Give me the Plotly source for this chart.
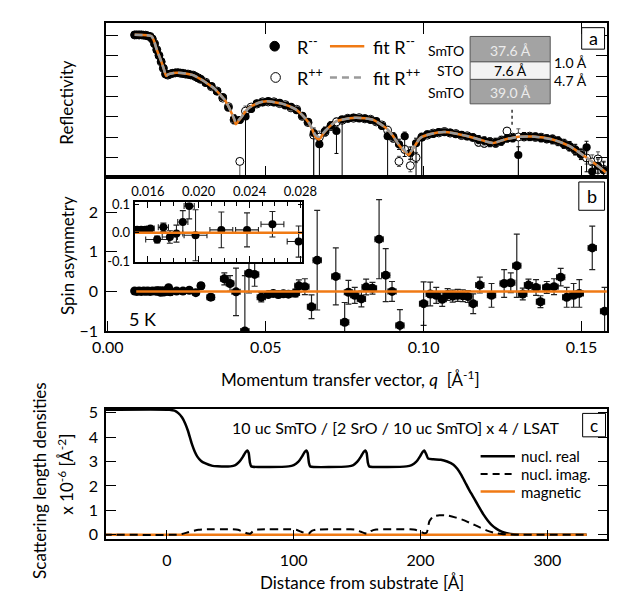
import plotly.graph_objects as go

# ---------------- data: panel a (log10 reflectivity) ----------------
q_refl = [0.0085, 0.0092, 0.0099, 0.0106, 0.0113, 0.0120, 0.0127, 0.0134, 0.0141, 0.0148,
          0.0155, 0.0162, 0.0169, 0.0176, 0.0183, 0.0190, 0.0198, 0.0206, 0.0214, 0.0222,
          0.0230, 0.0238, 0.0246, 0.0254, 0.0262, 0.0270, 0.0278, 0.0286, 0.0294,
          0.0310, 0.0328, 0.0346, 0.0364, 0.0382, 0.0400, 0.0418, 0.0436, 0.0454, 0.0472,
          0.0490, 0.0508, 0.0526, 0.0544, 0.0562, 0.0580, 0.0598, 0.0616, 0.0634, 0.0652,
          0.0670, 0.0688, 0.0706, 0.0724, 0.0742, 0.0760, 0.0778, 0.0796, 0.0814, 0.0832,
          0.0850, 0.0868, 0.0886, 0.0904, 0.0922, 0.0940, 0.0958, 0.0976, 0.0994, 0.1012,
          0.1030, 0.1048, 0.1066, 0.1084, 0.1102, 0.1120, 0.1138, 0.1156, 0.1174, 0.1192,
          0.1210, 0.1228, 0.1246, 0.1264, 0.1282, 0.1300, 0.1318, 0.1336, 0.1354, 0.1372,
          0.1390, 0.1408, 0.1426, 0.1444, 0.1462, 0.1480, 0.1498, 0.1516, 0.1534, 0.1552,
          0.1570]
R_mm = [0.03, 0.02, 0.03, 0.02, 0.02, 0.0, -0.02, -0.06, -0.16, -0.42,
        -0.72, -1.0, -1.27, -1.6, -1.88, -1.93, -1.88, -1.85, -1.83, -1.84,
        -1.84, -1.88, -1.88, -1.92, -1.93, -1.97, -2.01, -2.1, -2.14,
        -2.34, -2.48, -2.76, -3.02, -3.55, -4.1, -4.15, -3.98, -3.62, -3.33,
        -3.3, -3.22, -3.3, -3.31, -3.44, -3.5, -3.68, -3.95, -4.24, -4.8,
        -5.35, -4.7, -4.42, -4.7, -4.12, -4.1, -4.03, -4.08, -4.07, -4.15,
        -4.2, -4.45, -4.95, -4.98, -5.35, -4.95, -5.78, -5.3, -5.02, -4.85,
        -4.84, -4.75, -4.76, -4.77, -4.86, -4.88, -4.97, -5.0, -5.12, -5.18,
        -5.27, -5.25, -5.2, -5.06, -5.05, -5.87, -4.95, -4.99, -4.97, -5.05,
        -5.06, -5.13, -5.18, -5.35, -5.43, -5.6, -5.85, -5.5, -6.68, -6.42,
        -6.62]
R_pp = [0.02, 0.03, 0.02, 0.03, 0.01, 0.01, -0.03, -0.05, -0.18, -0.4,
        -0.7, -0.98, -1.3, -1.62, -1.9, -1.95, -1.9, -1.86, -1.84, -1.83,
        -1.86, -1.86, -1.9, -1.9, -1.94, -1.95, -2.03, -2.08, -2.16,
        -2.3, -2.52, -2.73, -3.08, -3.5, -4.15, -6.19, -3.72, -3.52, -3.37,
        -3.26, -3.27, -3.26, -3.35, -3.4, -3.56, -3.63, -3.98, -4.28, -4.9,
        -5.0, -4.75, -4.48, -4.25, -4.17, -4.07, -4.07, -4.04, -4.1, -4.12,
        -4.25, -4.4, -4.66, -5.05, -6.19, -5.6, -6.4, -6.0, -5.0, -4.9,
        -4.8, -4.79, -4.72, -4.8, -4.82, -4.92, -4.93, -5.02, -5.25, -5.3,
        -5.22, -5.3, -5.15, -4.7, -5.0, -4.99, -4.99, -4.95, -5.01, -5.0,
        -5.09, -5.09, -5.22, -5.3, -5.47, -5.64, -5.8, -6.02, -6.22, -6.07,
        -6.58]
err_refl = [0.03, 0.03, 0.03, 0.03, 0.03, 0.03, 0.03, 0.03, 0.03, 0.04,
            0.04, 0.04, 0.04, 0.04, 0.05, 0.05, 0.05, 0.05, 0.05, 0.05,
            0.06, 0.06, 0.06, 0.06, 0.06, 0.07, 0.07, 0.07, 0.08,
            0.08, 0.08, 0.09, 0.10, 0.12, 0.20, 0.15, 0.25, 0.15, 0.10,
            0.10, 0.10, 0.10, 0.10, 0.10, 0.10, 0.12, 0.14, 0.15, 0.25,
            0.30, 0.20, 0.18, 0.20, 0.12, 0.12, 0.12, 0.12, 0.12, 0.12,
            0.13, 0.15, 0.20, 0.20, 0.25, 0.20, 0.30, 0.25, 0.20, 0.15,
            0.15, 0.15, 0.15, 0.15, 0.15, 0.15, 0.15, 0.15, 0.20, 0.20,
            0.20, 0.20, 0.20, 0.18, 0.18, 0.40, 0.18, 0.18, 0.18, 0.18,
            0.18, 0.20, 0.20, 0.20, 0.22, 0.25, 0.25, 0.30, 0.35, 0.35,
            0.40]
deep_mm = {0.0436: 3.0, 0.0652: 3.0, 0.0670: 3.0, 0.0724: 1.1, 0.0742: 3.0, 0.0886: 3.0,
           0.0940: 1.0, 0.0976: 3.0, 0.0994: 3.0, 0.1300: 3.0, 0.1516: 1.2, 0.1534: 3.0}
deep_pp = {0.0418: 3.0, 0.0652: 3.0, 0.0994: 3.0, 0.1300: 3.0, 0.1552: 3.0}

q_fit = [0.0085, 0.0110, 0.0130, 0.0139, 0.0147, 0.0155, 0.0163, 0.0171, 0.0178, 0.0185,
         0.0190, 0.0197, 0.0219, 0.0245, 0.0272, 0.0294, 0.0315, 0.0337, 0.0353, 0.0369,
         0.0380, 0.0390, 0.0399, 0.0406, 0.0413, 0.0422, 0.0444, 0.0476, 0.0503, 0.0551,
         0.0594, 0.0615, 0.0637, 0.0648, 0.0658, 0.0669, 0.0679, 0.0690, 0.0722, 0.0765,
         0.0787, 0.0840, 0.0883, 0.0902, 0.0920, 0.0937, 0.0953, 0.0961, 0.0969, 0.0990,
         0.1022, 0.1065, 0.1140, 0.1204, 0.1220, 0.1258, 0.1301, 0.1343, 0.1408, 0.1461,
         0.1515, 0.1563, 0.1584]
fit_mm = [0.03, 0.02, 0.0, -0.05, -0.3, -0.7, -1.02, -1.35, -1.68, -1.99,
          -1.93, -1.88, -1.83, -1.87, -1.96, -2.15, -2.36, -2.6, -2.86, -3.14,
          -3.43, -3.75, -4.08, -4.36, -4.22, -4.04, -3.59, -3.32, -3.24, -3.35,
          -3.62, -3.9, -4.31, -4.65, -5.0, -5.11, -4.9, -4.68, -4.23, -4.07,
          -4.04, -4.15, -4.58, -4.92, -5.35, -5.65, -5.87, -5.7, -5.51, -5.03,
          -4.84, -4.74, -4.95, -5.24, -5.29, -5.11, -4.98, -4.97, -5.11, -5.43,
          -6.0, -6.55, -6.83]
fit_pp = [0.03, 0.02, 0.0, -0.05, -0.3, -0.7, -1.02, -1.35, -1.68, -1.99,
          -1.93, -1.88, -1.83, -1.87, -1.96, -2.15, -2.36, -2.6, -2.86, -3.14,
          -3.43, -3.74, -4.05, -4.28, -4.18, -4.03, -3.6, -3.32, -3.24, -3.35,
          -3.62, -3.9, -4.3, -4.6, -4.9, -4.98, -4.85, -4.66, -4.23, -4.07,
          -4.04, -4.15, -4.58, -4.92, -5.33, -5.6, -5.82, -5.68, -5.5, -5.03,
          -4.84, -4.74, -4.95, -5.24, -5.29, -5.11, -4.98, -4.97, -5.11, -5.43,
          -6.0, -6.55, -6.83]

# ---------------- data: panel b (spin asymmetry) ----------------
q_sa = [0.0085, 0.0092, 0.0099, 0.0106, 0.0113, 0.0120, 0.0127, 0.0134, 0.0141,
        0.01515, 0.01547, 0.01578, 0.0162, 0.01673, 0.01722, 0.01773, 0.01825, 0.01875,
        0.01925, 0.01975, 0.02178, 0.0238, 0.0258, 0.02786,
        0.0295, 0.0326, 0.0369, 0.0387, 0.0406, 0.0434, 0.0447, 0.0465, 0.0486,
        0.0508, 0.0524, 0.0540, 0.0556, 0.0572, 0.0594, 0.0605, 0.0624, 0.0645,
        0.0663, 0.0722, 0.0750, 0.0762, 0.0782, 0.0803, 0.0818, 0.0838, 0.0859,
        0.0880, 0.0900, 0.0925, 0.1000, 0.1021, 0.1040, 0.1059, 0.1076, 0.1092,
        0.1108, 0.1124, 0.1140, 0.1157, 0.1178, 0.1215, 0.1255, 0.1276, 0.1295,
        0.1314, 0.1332, 0.1356, 0.1370, 0.1390, 0.1413, 0.1434, 0.1453, 0.1475,
        0.1493, 0.1534, 0.1573]
sa = [0.01, 0.0, 0.01, 0.0, 0.01, 0.005, 0.01, 0.0, 0.01,
      0.011, 0.011, 0.011, 0.015, -0.024, 0.019, -0.015, -0.003, 0.038,
      0.094, -0.009, 0.010, 0.010, 0.030, -0.031,
      0.14, -0.146, 0.317, 0.2, -0.01, -1.0, 0.46, 0.43, -0.146,
      -0.08, -0.05, -0.08, -0.06, -0.07, -0.04, 0.14, 0.12, -0.39,
      0.79, 0.38, -0.78, -0.02, -0.1, -0.19, 0.11, 0.08, 1.32,
      0.41, 0.0, -0.86, -0.31, -0.065, -0.1, -0.2, -0.08, -0.12,
      -0.1, -0.11, -0.13, -0.31, 0.16, -0.1, 0.2, 0.22, 0.65,
      -0.065, 0.16, 0.1, -0.26, 0.1, 0.12, 0.36, -0.15, -0.1,
      -0.05, 1.1, -0.5]
sa_err = [0.004, 0.004, 0.005, 0.005, 0.005, 0.005, 0.005, 0.006, 0.006,
          0.005, 0.005, 0.005, 0.006, 0.012, 0.015, 0.022, 0.03, 0.04,
          0.045, 0.09, 0.063, 0.06, 0.045, 0.055,
          0.08, 0.08, 0.15, 0.2, 0.6, 1.4, 0.5, 0.3, 0.12,
          0.07, 0.07, 0.08, 0.07, 0.08, 0.1, 0.15, 0.2, 0.3,
          1.26, 0.72, 0.5, 0.3, 0.2, 0.2, 0.2, 0.15, 1.0,
          0.67, 0.25, 0.4, 0.55, 0.3, 0.2, 0.18, 0.15, 0.15,
          0.15, 0.15, 0.15, 0.25, 0.2, 0.3, 0.35, 0.25, 0.8,
          0.15, 0.15, 0.2, 0.15, 0.15, 0.2, 0.22, 0.25, 0.3,
          0.35, 0.55, 0.6]
sa_dq = [0.0002, 0.0002, 0.0002, 0.0002, 0.0002, 0.0002, 0.0002, 0.0002, 0.0002,
         0.0002, 0.0002, 0.0002, 0.0003, 0.0009, 0.0004, 0.0006, 0.0005, 0.0004,
         0.0004, 0.0009, 0.0009, 0.0009, 0.0009, 0.0009,
         0.0010, 0.0012, 0.0012, 0.0012, 0.0013, 0.0013, 0.0013, 0.0013, 0.0013,
         0.0013, 0.0013, 0.0013, 0.0013, 0.0013, 0.0013, 0.0013, 0.0013, 0.0013,
         0.0013, 0.0013, 0.0013, 0.0013, 0.0013, 0.0013, 0.0013, 0.0013, 0.0013,
         0.0013, 0.0013, 0.0013, 0.0013, 0.0013, 0.0013, 0.0013, 0.0013, 0.0013,
         0.0013, 0.0013, 0.0013, 0.0013, 0.0013, 0.0013, 0.0013, 0.0013, 0.0013,
         0.0013, 0.0013, 0.0013, 0.0013, 0.0013, 0.0013, 0.0013, 0.0013, 0.0013,
         0.0013, 0.0013, 0.0013]
q_sa_fit = [0.009, 0.158]
sa_fit = [0.0, 0.0]

# ---------------- data: panel c (SLD profiles) ----------------
z_real = [-50, 2, 6, 9, 12, 14.5, 16.6, 19.6, 22, 24, 27, 30, 36, 40,
          50, 54, 57, 60, 62, 63.5, 64.5, 65.5, 66.5,
          96, 100, 103.5, 106.5, 108.5, 110, 111, 112, 113,
          143, 147, 150, 153, 155, 156.5, 157.5, 158.5, 159.5,
          189, 193, 196.5, 199.5, 201.5, 203, 204.5, 206, 210, 216, 221, 226, 229, 232,
          235, 238, 241, 244, 247, 250, 253, 256, 260, 264, 268, 271, 276, 282, 331]
sld_real = [5.12, 5.12, 5.08, 4.98, 4.8, 4.55, 4.26, 3.73, 3.4, 3.2, 3.02, 2.93, 2.82, 2.8,
            2.8, 2.85, 2.98, 3.2, 3.38, 3.45, 3.35, 2.95, 2.8,
            2.8, 2.85, 2.98, 3.2, 3.38, 3.45, 3.35, 2.95, 2.8,
            2.8, 2.85, 2.98, 3.2, 3.38, 3.45, 3.35, 2.95, 2.8,
            2.8, 2.85, 2.98, 3.2, 3.38, 3.45, 3.3, 3.12, 3.09, 3.07, 3.0, 2.87, 2.7, 2.46,
            2.17, 1.87, 1.6, 1.33, 1.06, 0.8, 0.58, 0.4, 0.24, 0.13, 0.06, 0.03, 0.01, 0.0, 0.0]
z_imag = [-50, 8, 12, 16, 20, 25, 30,
          52, 56, 60, 63, 66, 68, 72,
          98, 102, 106, 109, 112, 114, 118,
          145, 149, 153, 156, 159, 161, 165,
          192, 196, 200, 203, 205, 207, 210, 215, 222, 228, 234, 240, 246, 252, 258,
          264, 270, 278, 331]
sld_imag = [0, 0, 0.03, 0.09, 0.15, 0.2, 0.22,
            0.22, 0.2, 0.12, 0.06, 0.05, 0.15, 0.21,
            0.22, 0.2, 0.12, 0.06, 0.05, 0.15, 0.21,
            0.22, 0.2, 0.12, 0.06, 0.05, 0.15, 0.21,
            0.22, 0.2, 0.12, 0.06, 0.1, 0.55, 0.75, 0.8, 0.78, 0.7, 0.6, 0.46, 0.32, 0.18, 0.08,
            0.03, 0.01, 0, 0]
z_mag = [-50, 331]
sld_mag = [0.0, 0.0]

# ---------------- styling ----------------
W, H = 623, 596
FONT = "Lato, Open Sans, sans-serif"
ORANGE = "#F07A14"
GRAY = "#9a9a9a"


def X(p):
    return p / W


def Y(p):
    return 1 - p / H


err_mm_dn = [deep_mm.get(q, e) for q, e in zip(q_refl, err_refl)]
err_pp_dn = [deep_pp.get(q, e) for q, e in zip(q_refl, err_refl)]

fig = go.Figure()

# panel a
fig.add_trace(go.Scatter(
    x=q_refl, y=R_pp, mode="markers", xaxis="x", yaxis="y",
    marker=dict(symbol="circle", size=8, color="white", line=dict(color="black", width=1)),
    error_y=dict(type="data", array=err_refl, arrayminus=err_pp_dn, color="#555", thickness=1, width=2),
    error_x=dict(type="constant", value=0.001, color="#555", thickness=1, width=2)))
fig.add_trace(go.Scatter(
    x=q_refl, y=R_mm, mode="markers", xaxis="x", yaxis="y",
    marker=dict(symbol="circle", size=8, color="black"),
    error_y=dict(type="data", array=err_refl, arrayminus=err_mm_dn, color="black", thickness=1, width=2),
    error_x=dict(type="constant", value=0.001, color="black", thickness=1, width=2)))
fig.add_trace(go.Scatter(x=q_fit, y=fit_mm, mode="lines", xaxis="x", yaxis="y",
                         line=dict(color=ORANGE, width=2.5, shape="spline", smoothing=0.6)))
fig.add_trace(go.Scatter(x=q_fit, y=fit_pp, mode="lines", xaxis="x", yaxis="y",
                         line=dict(color=GRAY, width=2.5, dash="8px,4px", shape="spline", smoothing=0.6)))

# panel b
fig.add_trace(go.Scatter(
    x=q_sa, y=sa, mode="markers", xaxis="x2", yaxis="y2",
    marker=dict(size=9, color="black"),
    error_y=dict(type="data", array=sa_err, color="#222", thickness=1.2, width=3),
    error_x=dict(type="data", array=sa_dq, color="#222", thickness=1.2, width=3)))
fig.add_trace(go.Scatter(x=q_sa_fit, y=sa_fit, mode="lines", xaxis="x2", yaxis="y2",
                         line=dict(color=ORANGE, width=2.5)))

# inset
fig.add_trace(go.Scatter(
    x=q_sa, y=sa, mode="markers", xaxis="x4", yaxis="y4",
    marker=dict(size=8, color="black"),
    error_y=dict(type="data", array=sa_err, color="#222", thickness=1.1, width=3),
    error_x=dict(type="data", array=sa_dq, color="#222", thickness=1.1, width=3)))
fig.add_trace(go.Scatter(x=q_sa_fit, y=sa_fit, mode="lines", xaxis="x4", yaxis="y4",
                         line=dict(color=ORANGE, width=2.5)))

# panel c
fig.add_trace(go.Scatter(x=z_real, y=sld_real, mode="lines", xaxis="x3", yaxis="y3",
                         line=dict(color="black", width=2.5, shape="spline", smoothing=0.5)))
fig.add_trace(go.Scatter(x=z_mag, y=sld_mag, mode="lines", xaxis="x3", yaxis="y3",
                         line=dict(color=ORANGE, width=2.5)))
fig.add_trace(go.Scatter(x=z_imag, y=sld_imag, mode="lines", xaxis="x3", yaxis="y3",
                         line=dict(color="black", width=2, dash="8px,5px", shape="spline", smoothing=0.5)))

axis_common = dict(showline=True, linecolor="black", linewidth=1.5, showgrid=False, zeroline=False,
                   ticks="inside", tickcolor="black", tickwidth=1,
                   tickfont=dict(family=FONT, size=16, color="black"))
xdom = [X(88), X(614)]

fig.update_layout(
    width=W, height=H, autosize=False, margin=dict(l=0, r=0, t=0, b=0),
    paper_bgcolor="white", plot_bgcolor="white", showlegend=False,
    font=dict(family=FONT, size=16, color="black"),
    xaxis=dict(domain=xdom, range=[-0.0006, 0.1582], anchor="y", showticklabels=False,
               tickvals=[0.05, 0.10, 0.15], ticklen=11, mirror="ticks", **axis_common),
    yaxis=dict(domain=[Y(167), Y(9)], range=[-6.96, 0.62], anchor="x", showticklabels=False,
               tickvals=[-6, -5, -4, -3, -2, -1, 0], ticklen=12, mirror="ticks", **axis_common),
    xaxis2=dict(domain=xdom, range=[-0.0006, 0.1582], anchor="y2",
                tickvals=[0, 0.05, 0.10, 0.15], ticktext=["0.00", "0.05", "0.10", "0.15"],
                ticklen=11, mirror=True, ticklabelstandoff=1, **axis_common),
    yaxis2=dict(domain=[Y(325), Y(167)], range=[-1.01, 2.89], anchor="x2",
                tickvals=[-1, 0, 1, 2], ticklen=11, mirror=True, ticklabelstandoff=3, **axis_common),
    xaxis3=dict(domain=xdom, range=[-48.1, 347.4], anchor="y3",
                tickvals=[0, 100, 200, 300], ticklen=10, mirror=True, ticklabelstandoff=6, **axis_common),
    yaxis3=dict(domain=[Y(538), Y(404)], range=[-0.19, 5.17], anchor="x3",
                tickvals=[0, 1, 2, 3, 4, 5], ticklen=10, mirror="ticks", ticklabelstandoff=3, **axis_common),
    xaxis4=dict(domain=[X(118), X(294)], range=[0.01495, 0.02815], anchor="y4", side="top",
                tickvals=[0.016, 0.020, 0.024, 0.028], ticktext=["0.016", "0.020", "0.024", "0.028"],
                ticklen=6, mirror="ticks",
                minor=dict(tickmode="linear", tick0=0, dtick=0.001, ticks="inside", ticklen=4, tickcolor="black"),
                showline=True, linecolor="black", linewidth=1.5, showgrid=False, zeroline=False,
                ticks="inside", tickcolor="black", tickfont=dict(family=FONT, size=13, color="black")),
    yaxis4=dict(domain=[Y(254), Y(193)], range=[-0.1034, 0.1069], anchor="x4",
                tickvals=[-0.1, 0, 0.1], ticktext=["-0.1", "0.0", "0.1"], ticklen=5, mirror="ticks",
                showline=True, linecolor="black", linewidth=1.5, showgrid=False, zeroline=False,
                ticks="inside", tickcolor="black", tickfont=dict(family=FONT, size=13, color="black")),
)

ann = []


def text(x, y, s, size=16, xanchor="center", angle=0, color="black"):
    ann.append(dict(x=X(x), y=Y(y), xref="paper", yref="paper", text=s, showarrow=False,
                    xanchor=xanchor, yanchor="middle", textangle=angle,
                    font=dict(family=FONT, size=size, color=color)))


shapes = []


def rect(x0, y0, x1, y1, fill="white", line="black", lw=1):
    shapes.append(dict(type="rect", xref="paper", yref="paper", x0=X(x0), x1=X(x1), y0=Y(y1), y1=Y(y0),
                       fillcolor=fill, line=dict(color=line, width=lw), layer="above"))


def hline(x0, x1, y, color, width, dash="solid"):
    shapes.append(dict(type="line", xref="paper", yref="paper", x0=X(x0), x1=X(x1), y0=Y(y), y1=Y(y),
                       line=dict(color=color, width=width, dash=dash), layer="above"))


# axis titles
text(47, 90, "Reflectivity", 17, angle=-90)
text(47, 247, "Spin asymmetry", 17, angle=-90)
text(345, 373, "Momentum transfer vector, <i>q</i>  [Å<sup>-1</sup>]", 17)
text(357, 582, "Distance from substrate [Å]", 17)
text(19, 478, "Scattering length densities", 17, angle=-90)
text(46, 471, "x 10<sup>-6</sup> [Å<sup>-2</sup>]", 17, angle=-90)

# panel a legend
shapes.append(dict(type="circle", xref="paper", yref="paper", x0=X(260), x1=X(270), y0=Y(38), y1=Y(28),
                   fillcolor="black", line=dict(color="black", width=1)))
shapes.append(dict(type="circle", xref="paper", yref="paper", x0=X(261), x1=X(271), y0=Y(70), y1=Y(60),
                   fillcolor="white", line=dict(color="black", width=1)))
text(286, 33, "R<sup>--</sup>", 18, xanchor="left")
text(286, 65, "R<sup>++</sup>", 18, xanchor="left")
hline(323, 359, 33, ORANGE, 2.5)
hline(323, 359, 65, GRAY, 2.5, "7px,5px")
text(366, 33, "fit R<sup>--</sup>", 18, xanchor="left")
text(366, 65, "fit R<sup>++</sup>", 18, xanchor="left")

# layer schematic
rect(470, 23, 554, 49, fill="#a3a3a3", line="#555")
rect(470, 49, 554, 67, fill="#f3f3f3", line="#555")
rect(470, 67, 554, 92, fill="#a3a3a3", line="#555")
text(512, 37, "37.6 Å", 14, color="#ececec")
text(512, 58, "7.6 Å", 14)
text(512, 80, "39.0 Å", 14, color="#ececec")
text(466, 37, "SmTO", 14, xanchor="right")
text(466, 58, "STO", 14, xanchor="right")
text(466, 80, "SmTO", 14, xanchor="right")
text(556, 50, "1.0 Å", 14, xanchor="left")
text(556, 68, "4.7 Å", 14, xanchor="left")
shapes.append(dict(type="line", xref="paper", yref="paper", x0=X(514), x1=X(514), y0=Y(98), y1=Y(114),
                   line=dict(color="#333", width=1.5, dash="dot")))

# panel labels
rect(587, 14, 611, 36)
text(599, 25, "a", 18)
rect(584, 172, 611, 201)
text(597.5, 186.5, "b", 18)
rect(588, 409, 612, 433)
text(600, 421, "c", 17)

text(126, 312, "5 K", 18)

# panel c texts and legend
text(392, 423, "10 uc SmTO / [2 SrO / 10 uc SmTO] x 4 / LSAT", 16)
hline(481, 517, 453, "black", 2.5)
hline(481, 517, 471, "black", 2, "7px,5px")
hline(481, 517, 489, ORANGE, 2.5)
text(521, 453, "nucl. real", 15, xanchor="left")
text(521, 471, "nucl. imag.", 15, xanchor="left")
text(521, 489, "magnetic", 15, xanchor="left")

fig.update_layout(annotations=ann, shapes=shapes)
fig.write_html("out.html")
